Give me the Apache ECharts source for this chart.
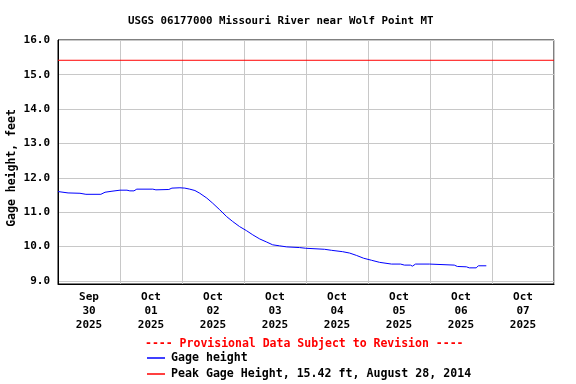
<!DOCTYPE html>
<html>
<head>
<meta charset="utf-8">
<script src="https://cdn.jsdelivr.net/npm/echarts@6/dist/echarts.min.js"></script>
<style>html,body{margin:0;padding:0;background:#fff;}#c{width:576px;height:384px;}</style>
</head>
<body>
<div id="c"></div>
<script>
// Hours since Sep 30 2025 00:00
const hoursSinceStart = [0, 3.9, 8.5, 10.8, 16.6, 18.2, 20.9, 24, 26.7, 27.8, 29.4, 30.5, 36.7, 37.9, 42.9, 44.1, 47.2, 49.1, 51, 53, 54.9, 57.6, 59.9, 62.6, 65.3, 67.6, 70.3, 73, 75.4, 78.1, 80.8, 83.1, 85.8, 88.5, 93.5, 95.9, 103.2, 105.9, 110.2, 112.9, 115.6, 118.3, 121.4, 124.5, 129.1, 132.6, 134.1, 136.4, 137.2, 138.4, 143.8, 153.4, 154.6, 158.1, 159.2, 161.9, 162.7, 165.8];
const gageHeight = [11.60, 11.56, 11.55, 11.52, 11.52, 11.58, 11.61, 11.64, 11.64, 11.62, 11.62, 11.67, 11.67, 11.65, 11.66, 11.70, 11.71, 11.70, 11.67, 11.63, 11.55, 11.41, 11.26, 11.07, 10.87, 10.73, 10.58, 10.46, 10.34, 10.22, 10.13, 10.05, 10.02, 9.99, 9.97, 9.95, 9.92, 9.89, 9.85, 9.81, 9.74, 9.66, 9.60, 9.54, 9.49, 9.49, 9.46, 9.46, 9.43, 9.49, 9.49, 9.46, 9.42, 9.41, 9.38, 9.38, 9.44, 9.44];
const peakHeight = 15.42;
const peakRange = [0, 192];
const xTickLabels = ['Sep\n30\n2025', 'Oct\n01\n2025', 'Oct\n02\n2025', 'Oct\n03\n2025', 'Oct\n04\n2025', 'Oct\n05\n2025', 'Oct\n06\n2025', 'Oct\n07\n2025'];
const xLabelPositions = [12, 36, 60, 84, 108, 132, 156, 180];
const yTicks = [9, 10, 11, 12, 13, 14, 15, 16];

const FONT = '"DejaVu Sans Mono", monospace';
const chart = echarts.init(document.getElementById('c'), null, {renderer: 'canvas'});
chart.setOption({
  animation: false,
  backgroundColor: '#fff',
  title: [
    {text: 'USGS 06177000 Missouri River near Wolf Point MT', left: 123, top: 11,
     textStyle: {fontFamily: FONT, fontSize: 10.8, fontWeight: 'bold', color: '#000'}},
    {text: '---- Provisional Data Subject to Revision ----', left: 140, top: 333,
     textStyle: {fontFamily: FONT, fontSize: 11.5, fontWeight: 'bold', color: '#ff0000'}}
  ],
  legend: {
    orient: 'vertical', left: 147, top: 352, itemGap: 4, itemWidth: 18, itemHeight: 1.5,
    icon: 'rect', padding: 0,
    textStyle: {fontFamily: FONT, fontSize: 11.6, fontWeight: 'bold', color: '#000', padding: [0, 0, 0, 1]},
    data: ['Gage height', 'Peak Gage Height, 15.42 ft, August 28, 2014']
  },
  grid: {left: 58, right: 22, top: 40, bottom: 100, show: true, borderColor: '#000', borderWidth: 1,
         backgroundColor: 'transparent', containLabel: false, outerBoundsMode: 'none'},
  xAxis: {
    type: 'value', min: 0, max: 192, interval: 24,
    axisLine: {show: true, lineStyle: {color: '#000', width: 1}},
    axisTick: {show: false},
    splitLine: {show: true, lineStyle: {color: '#c8c8c8', width: 1}},
    axisLabel: {
      customValues: xLabelPositions,
      formatter: function (v) { return xTickLabels[Math.round((v - 12) / 24)]; },
      fontFamily: FONT, fontSize: 11, fontWeight: 'bold', color: '#000', lineHeight: 14, margin: 6
    }
  },
  yAxis: {
    type: 'value', min: 8.91, max: 16.01,
    name: 'Gage height, feet', nameLocation: 'middle', nameRotate: 90, nameGap: 40, nameMoveOverlap: false,
    nameTextStyle: {fontFamily: FONT, fontSize: 11.5, fontWeight: 'bold', color: '#000', padding: [0, 12, 0, 0]},
    axisLine: {show: true, lineStyle: {color: '#000', width: 1}},
    axisTick: {show: false, customValues: yTicks},
    splitLine: {show: true, lineStyle: {color: '#c8c8c8', width: 1}},
    axisLabel: {
      customValues: yTicks,
      formatter: function (v) { return v.toFixed(1); },
      fontFamily: FONT, fontSize: 11, fontWeight: 'bold', color: '#000', margin: 8
    }
  },
  series: [
    {
      name: 'Gage height', type: 'line', showSymbol: false, symbol: 'none',
      lineStyle: {color: '#0000ff', width: 1}, itemStyle: {color: '#0000ff'},
      data: hoursSinceStart.map((h, i) => [h, gageHeight[i]])
    },
    {
      name: 'Peak Gage Height, 15.42 ft, August 28, 2014', type: 'line', showSymbol: false, symbol: 'none',
      lineStyle: {color: '#ff0000', width: 1}, itemStyle: {color: '#ff0000'},
      data: peakRange.map(h => [h, peakHeight])
    }
  ]
});
</script>
</body>
</html>
